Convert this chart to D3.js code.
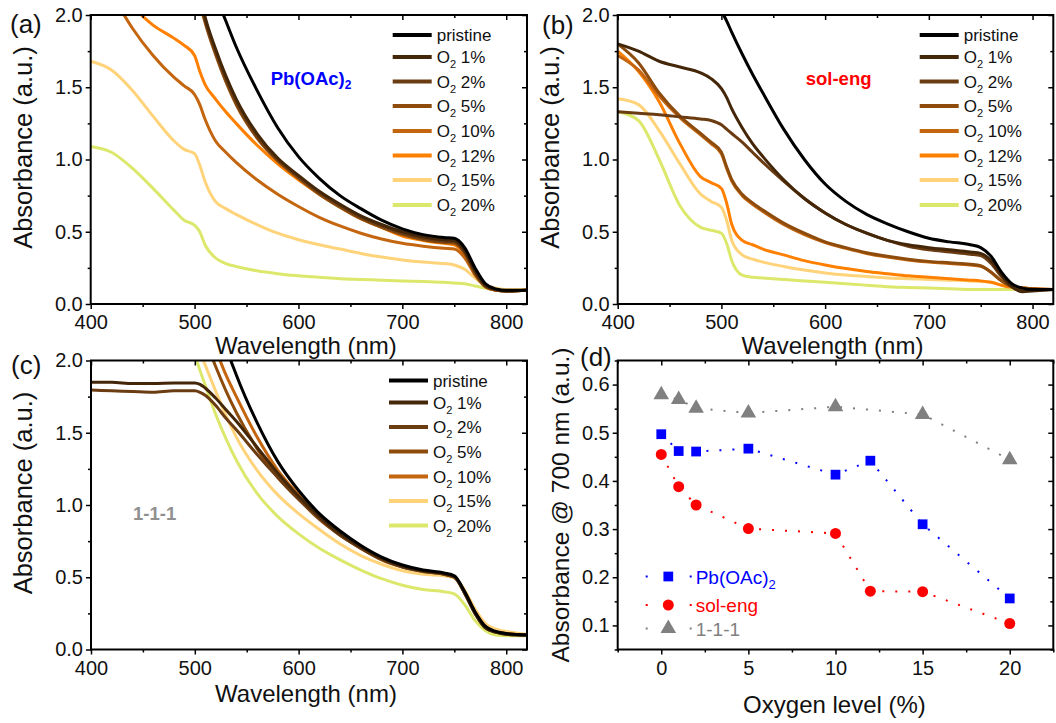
<!DOCTYPE html>
<html><head><meta charset="utf-8">
<script src="https://cdn.jsdelivr.net/npm/d3@7"></script>
<style>body{margin:0;background:#fff} text{font-family:"Liberation Sans",Arial,sans-serif}</style>
</head><body><svg id="c" width="1056" height="723"></svg>
<script>
// ---------- data ----------
const wavelengths = [400,420,440,460,480,490,500,505,510,520,530,540,560,580,600,620,640,660,680,700,720,740,750,760,770,780,790,800,820];
const n = null;
// panel (a) Pb(OAc)2
const a_pristine = [n,n,n,n,n,n,n,n,2.45,2.15,1.96,1.78,1.48,1.22,1.02,0.87,0.75,0.66,0.58,0.52,0.48,0.46,0.455,0.39,0.25,0.14,0.105,0.095,0.095];
const a_o1  = [n,n,n,n,n,n,2.35,2.15,1.99,1.77,1.58,1.42,1.18,1.01,0.89,0.78,0.69,0.61,0.55,0.50,0.465,0.445,0.44,0.37,0.23,0.13,0.10,0.09,0.095];
const a_o2  = [n,n,n,n,n,n,2.32,2.12,1.97,1.75,1.56,1.40,1.16,1.00,0.88,0.77,0.68,0.60,0.54,0.49,0.455,0.435,0.43,0.36,0.22,0.125,0.10,0.09,0.095];
const a_o5  = [n,n,n,n,n,n,2.28,2.09,1.95,1.73,1.54,1.38,1.15,0.99,0.87,0.76,0.67,0.59,0.53,0.48,0.445,0.425,0.42,0.35,0.21,0.12,0.095,0.09,0.095];
const a_o10 = [n,2.15,1.91,1.72,1.57,1.51,1.45,1.38,1.28,1.13,1.05,0.98,0.86,0.76,0.675,0.60,0.54,0.49,0.45,0.42,0.40,0.385,0.38,0.32,0.20,0.12,0.095,0.09,0.095];
const a_o12 = [n,n,2.06,1.93,1.84,1.79,1.72,1.61,1.52,1.42,1.33,1.25,1.10,0.97,0.86,0.76,0.67,0.59,0.53,0.47,0.44,0.42,0.41,0.34,0.21,0.12,0.095,0.09,0.095];
const a_o15 = [1.68,1.62,1.48,1.30,1.13,1.07,1.04,0.96,0.85,0.71,0.66,0.62,0.55,0.49,0.445,0.41,0.38,0.35,0.325,0.305,0.29,0.28,0.27,0.24,0.18,0.13,0.11,0.10,0.10];
const a_o20 = [1.09,1.05,0.94,0.80,0.65,0.58,0.545,0.50,0.41,0.32,0.28,0.26,0.23,0.21,0.195,0.185,0.175,0.17,0.165,0.16,0.155,0.15,0.145,0.14,0.125,0.11,0.10,0.10,0.10];
// panel (b) sol-eng
const b_pristine = [n,n,n,n,n,2.2,2.03,1.96,1.88,1.73,1.59,1.46,1.21,1.00,0.83,0.71,0.62,0.555,0.50,0.455,0.43,0.41,0.39,0.33,0.22,0.14,0.11,0.10,0.10];
const b_o1  = [1.80,1.75,1.68,1.64,1.60,1.56,1.49,1.43,1.35,1.22,1.11,1.02,0.86,0.73,0.63,0.55,0.49,0.44,0.41,0.39,0.375,0.36,0.35,0.30,0.20,0.12,0.085,0.09,0.10];
const b_o2  = [1.33,1.32,1.31,1.295,1.28,1.27,1.24,1.21,1.18,1.12,1.05,0.98,0.85,0.73,0.63,0.55,0.49,0.44,0.40,0.375,0.36,0.345,0.335,0.28,0.19,0.12,0.09,0.095,0.10];
const b_o5  = [1.80,1.67,1.46,1.30,1.18,1.12,1.05,0.95,0.86,0.76,0.70,0.65,0.56,0.49,0.43,0.39,0.355,0.33,0.31,0.295,0.285,0.275,0.265,0.22,0.16,0.12,0.11,0.105,0.10];
const b_o10 = [1.72,1.62,1.44,1.29,1.17,1.11,1.04,0.94,0.85,0.75,0.69,0.64,0.55,0.48,0.425,0.385,0.35,0.325,0.305,0.29,0.28,0.27,0.26,0.22,0.16,0.12,0.11,0.105,0.10];
const b_o12 = [1.75,1.61,1.40,1.11,0.88,0.84,0.80,0.70,0.55,0.44,0.41,0.38,0.34,0.30,0.27,0.245,0.225,0.21,0.195,0.185,0.175,0.165,0.16,0.15,0.13,0.115,0.11,0.105,0.10];
const b_o15 = [1.42,1.38,1.20,0.97,0.76,0.71,0.67,0.58,0.44,0.34,0.31,0.29,0.26,0.235,0.215,0.20,0.19,0.18,0.175,0.17,0.165,0.16,0.155,0.15,0.13,0.115,0.11,0.105,0.10];
const b_o20 = [1.33,1.27,1.00,0.68,0.53,0.51,0.49,0.42,0.30,0.20,0.185,0.18,0.17,0.16,0.15,0.14,0.13,0.12,0.115,0.11,0.105,0.10,0.10,0.10,0.10,0.10,0.10,0.10,0.10];
// panel (c) 1-1-1
const c_pristine = [n,n,n,n,n,n,n,n,n,2.4,2.1,1.90,1.57,1.30,1.10,0.94,0.82,0.72,0.64,0.585,0.55,0.53,0.51,0.40,0.26,0.16,0.125,0.11,0.10];
const c_o1  = [1.85,1.85,1.84,1.84,1.845,1.845,1.845,1.835,1.81,1.74,1.66,1.58,1.40,1.22,1.06,0.92,0.80,0.71,0.63,0.575,0.545,0.525,0.505,0.39,0.25,0.15,0.12,0.105,0.10];
const c_o2  = [1.795,1.79,1.785,1.78,1.79,1.79,1.79,1.78,1.76,1.69,1.60,1.52,1.35,1.19,1.04,0.91,0.79,0.70,0.625,0.57,0.54,0.52,0.50,0.39,0.25,0.15,0.12,0.105,0.10];
const c_o5  = [n,n,n,n,n,n,n,n,2.15,1.96,1.79,1.64,1.39,1.19,1.04,0.90,0.79,0.70,0.62,0.57,0.54,0.52,0.50,0.39,0.25,0.15,0.12,0.11,0.10];
const c_o10 = [n,n,n,n,n,n,n,n,n,2.08,1.90,1.75,1.47,1.24,1.07,0.92,0.80,0.705,0.63,0.575,0.545,0.525,0.505,0.40,0.26,0.16,0.12,0.11,0.10];
const c_o15 = [n,n,n,n,n,n,2.15,2.06,1.97,1.79,1.62,1.47,1.24,1.07,0.94,0.83,0.73,0.65,0.59,0.545,0.52,0.51,0.495,0.41,0.28,0.18,0.14,0.125,0.105];
const c_o20 = [n,n,n,n,n,2.2,2.04,1.93,1.83,1.63,1.46,1.31,1.08,0.92,0.80,0.70,0.62,0.55,0.49,0.445,0.415,0.40,0.385,0.31,0.20,0.13,0.10,0.095,0.095];

const legendAB = ["pristine","1%","2%","5%","10%","12%","15%","20%"];
const legendC  = ["pristine","1%","2%","5%","10%","15%","20%"];
const colorsAB = ["#000000","#442608","#6b3c12","#8e4c0c","#c4650f","#ff8000","#ffd37a","#dce86c"];
const colorsC  = ["#000000","#442608","#6b3c12","#8e4c0c","#c4650f","#ffd37a","#dce86c"];

// panel (d)
const oxygen = [0,1,2,5,10,12,15,20];
const oxygen111 = [0,1,2,5,10,15,20];
const abs700_pbOAc = [0.497,0.462,0.461,0.467,0.413,0.442,0.310,0.156];
const abs700_solEng = [0.455,0.388,0.350,0.301,0.291,0.171,0.170,0.104];
const abs700_111 = [0.579,0.569,0.551,0.541,0.554,0.538,0.444];

const specXMajor = [400,500,600,700,800], specXMinor = [450,550,650,750];
const specYMajor = [0,0.5,1.0,1.5,2.0], specYMinor = [0.25,0.75,1.25,1.75];
const dXMajor = [0,5,10,15,20], dXMinor = [-2.5,2.5,7.5,12.5,17.5,22.5];
const dYMajor = [0.1,0.2,0.3,0.4,0.5,0.6], dYMinor = [0.05,0.15,0.25,0.35,0.45,0.55,0.65];

// ---------- drawing ----------
const svg = d3.select("#c");
const FONT = '"Liberation Sans",Arial,sans-serif';

function axes(g, x, y, w, h, xMaj, xMin, yMaj, yMin, xFmt, yFmt){
  const TL=5, TM=3;
  const style = s => { s.select(".domain").remove();
    s.selectAll("line").attr("stroke","#000").attr("stroke-width",1.5);
    s.selectAll("text").attr("font-size",20).attr("font-family",FONT).attr("fill","#111"); };
  g.append("g").attr("transform",`translate(0,${h})`).call(d3.axisBottom(x).tickValues(xMaj).tickSize(TL).tickPadding(6).tickFormat(xFmt)).call(style);
  g.append("g").attr("transform",`translate(0,${h})`).call(d3.axisBottom(x).tickValues(xMin).tickSize(TM).tickFormat("")).call(style);
  g.append("g").call(d3.axisTop(x).tickValues(xMaj).tickSize(-TL).tickFormat("")).call(style);
  g.append("g").call(d3.axisTop(x).tickValues(xMin).tickSize(-TM).tickFormat("")).call(style);
  g.append("g").call(d3.axisLeft(y).tickValues(yMaj).tickSize(TL).tickPadding(3).tickFormat(yFmt)).call(style);
  g.append("g").call(d3.axisLeft(y).tickValues(yMin).tickSize(TM).tickFormat("")).call(style);
  g.append("g").attr("transform",`translate(${w},0)`).call(d3.axisRight(y).tickValues(yMaj).tickSize(-TL).tickFormat("")).call(style);
  g.append("g").attr("transform",`translate(${w},0)`).call(d3.axisRight(y).tickValues(yMin).tickSize(-TM).tickFormat("")).call(style);
  g.append("rect").attr("width",w).attr("height",h).attr("fill","none").attr("stroke","#000").attr("stroke-width",2);
}

function o2Text(sel, label, fs){
  if(label==="pristine"){ sel.text("pristine"); return; }
  sel.append("tspan").text("O");
  sel.append("tspan").attr("font-size",fs*0.65).attr("dy",fs*0.3).text("2");
  sel.append("tspan").attr("dy",-fs*0.3).text(" "+label);
}

function spectraPanel(id, box, series, legend, colors, legX, titleDy, tag){
  const w = box.r-box.l, h = box.b-box.t;
  const g = svg.append("g").attr("transform",`translate(${box.l},${box.t})`);
  const x = d3.scaleLinear().domain([400,820]).range([0,w]);
  const y = d3.scaleLinear().domain([0,2]).range([h,0]);
  g.append("clipPath").attr("id","clip"+id).append("rect").attr("width",w).attr("height",h);
  const line = d3.line().defined(d=>d[1]!=null).x(d=>x(d[0])).y(d=>y(d[1])).curve(d3.curveMonotoneX);
  const lg = g.append("g").attr("clip-path",`url(#clip${id})`);
  for(let i=series.length-1;i>=0;i--){
    lg.append("path").datum(wavelengths.map((wl,k)=>[wl,series[i][k]]))
      .attr("d",line).attr("fill","none").attr("stroke",colors[i]).attr("stroke-width",3).attr("stroke-linejoin","round");
  }
  axes(g,x,y,w,h,specXMajor,specXMinor,specYMajor,specYMinor,d3.format("d"),d3.format(".1f"));
  const rows = [20,42,66.5,91,116,140.5,165,190];
  legend.forEach((lab,i)=>{
    const ly = rows[i];
    g.append("line").attr("x1",legX).attr("x2",legX+39).attr("y1",ly).attr("y2",ly).attr("stroke",colors[i]).attr("stroke-width",4);
    const t = g.append("text").attr("x",legX+44).attr("y",ly+6).attr("font-size",17).attr("fill","#111");
    o2Text(t, lab, 17);
  });
  g.append("text").attr("x",w/2-3).attr("y",h+titleDy).attr("text-anchor","middle").attr("font-size",24).attr("fill","#111").text("Wavelength (nm)");
  g.append("text").attr("transform",`translate(${-59},${h/2-12}) rotate(-90)`).attr("text-anchor","middle").attr("font-size",25.5).attr("fill","#111").text("Absorbance (a.u.)");
  tag(g);
}

spectraPanel("a",{l:90.7,r:527,t:15,b:304},[a_pristine,a_o1,a_o2,a_o5,a_o10,a_o12,a_o15,a_o20],legendAB,colorsAB,302,50,g=>{
  const t=g.append("text").attr("x",180).attr("y",70).attr("font-size",18.5).attr("font-weight","bold").attr("fill","#0000ff");
  t.append("tspan").text("Pb(OAc)"); t.append("tspan").attr("font-size",12).attr("dy",4).text("2");
});
spectraPanel("b",{l:617.7,r:1053.3,t:15,b:304},[b_pristine,b_o1,b_o2,b_o5,b_o10,b_o12,b_o15,b_o20],legendAB,colorsAB,302,50,g=>{
  g.append("text").attr("x",188).attr("y",70).attr("font-size",18.5).attr("font-weight","bold").attr("fill","#ff0000").text("sol-eng");
});
spectraPanel("c",{l:91,r:527,t:360.5,b:649.5},[c_pristine,c_o1,c_o2,c_o5,c_o10,c_o15,c_o20],legendC,colorsC,298,52,g=>{
  g.append("text").attr("x",42).attr("y",159.5).attr("font-size",18.5).attr("font-weight","bold").attr("fill","#909090").text("1-1-1");
});

// panel (d)
(function(){
  const box={l:617.7,r:1053.3,t:360.5,b:649.5};
  const w=box.r-box.l, h=box.b-box.t;
  const g = svg.append("g").attr("transform",`translate(${box.l},${box.t})`);
  const x = d3.scaleLinear().domain([-2.5,22.5]).range([0,w]);
  const y = d3.scaleLinear().domain([0.05,0.65]).range([h,0]);
  const line = d3.line().x(d=>x(d[0])).y(d=>y(d[1]));
  const sets = [
    {xs:oxygen111, ys:abs700_111, color:"#808080", shape:d3.symbolTriangle, size:105, label:"1-1-1"},
    {xs:oxygen, ys:abs700_solEng, color:"#ff0000", shape:d3.symbolCircle, size:95, label:"sol-eng"},
    {xs:oxygen, ys:abs700_pbOAc, color:"#0000ff", shape:d3.symbolSquare, size:95, label:"Pb(OAc)"}
  ];
  sets.forEach(s=>{
    const pts = s.xs.map((v,i)=>[v,s.ys[i]]);
    g.append("path").datum(pts).attr("d",line).attr("fill","none").attr("stroke",s.color).attr("stroke-width",2).attr("stroke-dasharray","2 11");
    g.selectAll(null).data(pts).enter().append("path")
      .attr("transform",d=>`translate(${x(d[0])},${y(d[1])})`)
      .attr("d",d3.symbol().type(s.shape).size(s.size)).attr("fill",s.color);
  });
  axes(g,x,y,w,h,dXMajor,dXMinor,dYMajor,dYMinor,d3.format("d"),d3.format(".1f"));
  const legRows=[{s:sets[2],y:216},{s:sets[1],y:244.5},{s:sets[0],y:268}];
  legRows.forEach(r=>{
    g.append("line").attr("x1",28).attr("x2",74).attr("y1",r.y).attr("y2",r.y).attr("stroke",r.s.color).attr("stroke-width",2).attr("stroke-dasharray","2 20");
    g.append("path").attr("transform",`translate(${50.6},${r.y})`).attr("d",d3.symbol().type(r.s.shape).size(r.s.size)).attr("fill",r.s.color);
    const t=g.append("text").attr("x",78).attr("y",r.y+7).attr("font-size",19).attr("fill",r.s.color);
    t.append("tspan").text(r.s.label);
    if(r.s.label==="Pb(OAc)") t.append("tspan").attr("font-size",13).attr("dy",5).text("2");
  });
  g.append("text").attr("x",w/2-1).attr("y",h+63).attr("text-anchor","middle").attr("font-size",24).attr("fill","#111").text("Oxygen level (%)");
  g.append("text").attr("transform",`translate(${-49},${h/2}) rotate(-90)`).attr("text-anchor","middle").attr("font-size",24.5).attr("fill","#111").text("Absorbance @ 700 nm (a.u.)");
})();

[["(a)",10,33],["(b)",542,34],["(c)",11,374],["(d)",580,366]].forEach(([t,x,y])=>{
  svg.append("text").attr("x",x).attr("y",y).attr("font-size",26).attr("fill","#111").text(t);
});
</script></body></html>
